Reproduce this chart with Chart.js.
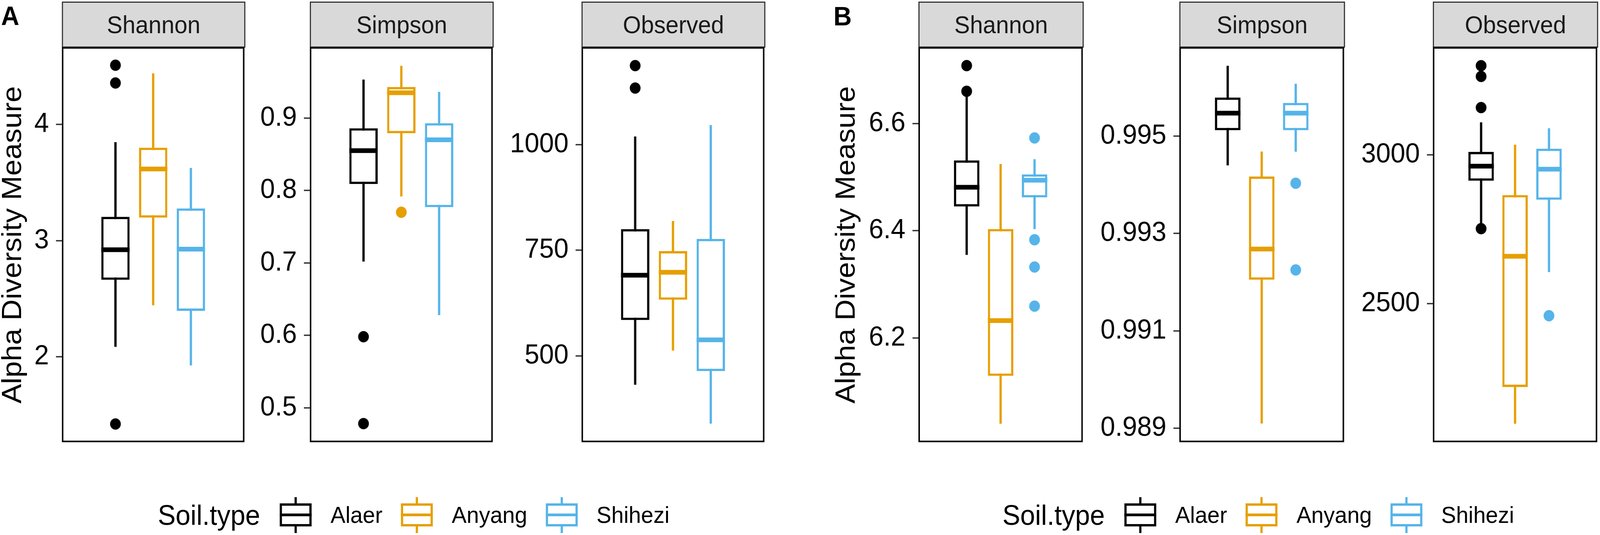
<!DOCTYPE html>
<html>
<head>
<meta charset="utf-8">
<script src="https://cdn.jsdelivr.net/npm/chart.js@4.4.1/dist/chart.umd.min.js"></script>
<style>
html,body{margin:0;padding:0;background:#fff;overflow:hidden;}
#root{width:4317px;height:1370px;position:absolute;left:0;top:0;overflow:hidden;background:#fff;transform-origin:0 0;font-family:'Liberation Sans',Arial,Helvetica,sans-serif;}
canvas{position:absolute;}
.strip{position:absolute;box-sizing:border-box;background:#D9D9D9;border:3px solid #333333;display:flex;align-items:center;justify-content:center;font-size:63px;color:#1A1A1A;line-height:1;}
.ytitle{position:absolute;font-size:75px;line-height:75px;white-space:nowrap;color:#000;transform:translate(-50%,-50%) rotate(-90deg);}
.letter{position:absolute;font-size:68px;font-weight:bold;line-height:68px;color:#000;}
.legend{position:absolute;display:flex;align-items:center;white-space:nowrap;transform:translate(-50%,-50%);}
.legend .ttl{font-size:72px;line-height:72px;margin-right:53px;color:#000;}
.legend .lab{font-size:60px;line-height:60px;margin-right:50px;color:#000;}
.legend .lab:last-child{margin-right:0;}
.glyph{position:relative;width:86px;height:92px;margin-right:51px;flex:none;}
.glyph .wh{position:absolute;left:40px;width:6px;top:0;height:92px;}
.glyph .bx{position:absolute;left:0;top:16px;width:86px;height:59px;box-sizing:border-box;border:6px solid;background:#fff;}
.glyph .md{position:absolute;left:0;width:86px;top:42px;height:7px;}
</style>
</head>
<body>
<div id="root"></div>
<script>
// ---------------- DATA ----------------
const GROUPS = ['Alaer', 'Anyang', 'Shihezi'];
const FACETS = ['Shannon', 'Simpson', 'Observed'];
const LEGEND_TITLE = 'Soil.type';
const Y_TITLE = 'Alpha Diversity Measure';

// each row: [lower whisker, Q1, median, Q3, upper whisker] for Alaer, Anyang, Shihezi
const A_SHANNON = [[2.086, 2.662, 2.921, 3.205, 3.847], [2.444, 3.198, 3.617, 3.800, 4.440], [1.926, 2.395, 2.926, 3.277, 3.625]];
const A_SHANNON_OUT = [[4.511, 4.358, 1.420], [], []];
const A_SHANNON_TICKS = ['2', '3', '4'];
const A_SHANNON_RANGE = [1.27, 4.66];

const A_SIMPSON = [[0.702, 0.809, 0.855, 0.886, 0.953], [0.792, 0.879, 0.935, 0.943, 0.972], [0.628, 0.777, 0.870, 0.893, 0.936]];
const A_SIMPSON_OUT = [[0.598, 0.478], [0.770], []];
const A_SIMPSON_TICKS = ['0.5', '0.6', '0.7', '0.8', '0.9'];
const A_SIMPSON_RANGE = [0.4534, 0.997];

const A_OBSERVED = [[432, 585, 691, 800, 1019], [513, 633, 698, 748, 819], [340, 464, 538, 777, 1046]];
const A_OBSERVED_OUT = [[1187, 1134], [], []];
const A_OBSERVED_TICKS = ['500', '750', '1000'];
const A_OBSERVED_RANGE = [297.6, 1229];

const B_SHANNON = [[6.355, 6.445, 6.481, 6.531, 6.651], [6.040, 6.129, 6.232, 6.403, 6.524], [6.403, 6.462, 6.494, 6.505, 6.533]];
const B_SHANNON_OUT = [[6.708, 6.660], [], [6.573, 6.383, 6.332, 6.259]];
const B_SHANNON_TICKS = ['6.2', '6.4', '6.6'];
const B_SHANNON_RANGE = [6.0066, 6.741];

const B_SIMPSON = [[0.99440, 0.99512, 0.99547, 0.99579, 0.99644], [0.98910, 0.99205, 0.99268, 0.99417, 0.99468], [0.99468, 0.99512, 0.99547, 0.99568, 0.99607]];
const B_SIMPSON_OUT = [[], [], [0.99403, 0.99225]];
const B_SIMPSON_TICKS = ['0.989', '0.991', '0.993', '0.995'];
const B_SIMPSON_RANGE = [0.98873, 0.99681];

const B_OBSERVED = [[2769, 2913, 2962, 3010, 3109], [2096, 2219, 2659, 2865, 3034], [2606, 2849, 2952, 3021, 3089]];
const B_OBSERVED_OUT = [[3300, 3264, 3159, 2752], [], [2459]];
const B_OBSERVED_TICKS = ['2500', '3000'];
const B_OBSERVED_RANGE = [2036, 3360];

// ---------------- STYLE / LAYOUT ----------------
const COLORS = ['#000000', '#E69F00', '#56B4E9'];
const PAGE_W = 4317, PAGE_H = 1370;
const PLOT_TOP = 121, PLOT_BOTTOM = 1132;
const PLOT_H = PLOT_BOTTOM - PLOT_TOP;
const BOX_WIDTH = 0.75;
const YW = 250, PADR = 12, PADV = 60;
const FONT = "'Liberation Sans', Arial, Helvetica, sans-serif";
const root = document.getElementById('root');

function fitRoot() {
  const sx = (window.innerWidth || PAGE_W) / PAGE_W;
  const sy = (window.innerHeight || PAGE_H) / PAGE_H;
  root.style.transform = (Math.abs(sx - 1) < 0.002 && Math.abs(sy - 1) < 0.002) ? 'none' : 'scale(' + sx + ',' + sy + ')';
}
fitRoot();

const panelBorder = {
  id: 'panelBorder',
  afterDraw(chart) {
    const {ctx, chartArea: a} = chart;
    ctx.save();
    ctx.strokeStyle = '#000';
    ctx.lineWidth = 4;
    ctx.strokeRect(a.left, a.top, a.right - a.left, a.bottom - a.top);
    ctx.restore();
  }
};

function makeFacet(left, width, name, stats, outs, ticks, range) {
  const st = document.createElement('div');
  st.className = 'strip';
  st.style.left = (left - 2) + 'px';
  st.style.top = '4px';
  st.style.width = (width + 4) + 'px';
  st.style.height = (PLOT_TOP - 4 + 1) + 'px';
  st.textContent = name;
  root.appendChild(st);

  const canvas = document.createElement('canvas');
  const cw = YW + width + PADR, ch = PLOT_H + 2 * PADV;
  canvas.width = cw; canvas.height = ch;
  canvas.style.left = (left - YW) + 'px';
  canvas.style.top = (PLOT_TOP - PADV) + 'px';
  canvas.style.width = cw + 'px';
  canvas.style.height = ch + 'px';
  root.appendChild(canvas);

  const datasets = [];
  GROUPS.forEach((g, i) => {
    const x = i + 1, s = stats[i], col = COLORS[i];
    datasets.push({
      type: 'line', label: g + ' median',
      data: [{x: x - BOX_WIDTH / 2, y: s[2]}, {x: x + BOX_WIDTH / 2, y: s[2]}],
      borderColor: col, borderWidth: 12, borderCapStyle: 'butt', pointRadius: 0, order: 0
    });
    datasets.push({
      type: 'bar', label: g,
      data: [{x: x, y: [s[1], s[3]]}],
      backgroundColor: '#ffffff', borderColor: col, borderWidth: 6, borderSkipped: false,
      grouped: false, categoryPercentage: BOX_WIDTH, barPercentage: 1, order: 1
    });
    datasets.push({
      type: 'bar', label: g + ' whiskers',
      data: [{x: x, y: [s[0], s[4]]}],
      backgroundColor: col, borderWidth: 0, grouped: false, barThickness: 5.5, order: 2
    });
    if (outs[i].length) {
      datasets.push({
        type: 'scatter', label: g + ' outliers',
        data: outs[i].map(v => ({x: x, y: v})),
        backgroundColor: col, borderWidth: 0, pointRadius: 14.5, pointHoverRadius: 14.5, order: 3
      });
    }
  });

  new Chart(canvas, {
    type: 'bar',
    data: {datasets},
    options: {
      responsive: false, animation: false, devicePixelRatio: 1,
      events: [],
      layout: {padding: {top: PADV, bottom: PADV, left: 0, right: PADR}},
      plugins: {legend: {display: false}, tooltip: {enabled: false}, title: {display: false}},
      scales: {
        x: {
          type: 'linear', min: 0.4, max: GROUPS.length + 0.6, display: false,
          afterBuildTicks: s => { s.ticks = GROUPS.map((g, i) => ({value: i + 1})); }
        },
        y: {
          type: 'linear', min: range[0], max: range[1],
          afterFit: s => { s.width = YW; },
          afterBuildTicks: s => { s.ticks = ticks.map(t => ({value: parseFloat(t)})); },
          ticks: {
            callback: (v, i) => ticks[i], autoSkip: false, padding: 19,
            color: '#000', font: {family: FONT, size: 71}
          },
          grid: {drawOnChartArea: false, drawTicks: true, tickLength: 18, tickColor: '#333333', tickWidth: 3.5},
          border: {display: false}
        }
      }
    },
    plugins: [panelBorder]
  });
}

function addText(cls, text, css) {
  const d = document.createElement('div');
  d.className = cls;
  d.textContent = text;
  Object.assign(d.style, css);
  root.appendChild(d);
  return d;
}

function makeLegend(cx) {
  const L = document.createElement('div');
  L.className = 'legend';
  L.style.left = cx + 'px';
  L.style.top = '1319px';
  const t = document.createElement('span');
  t.className = 'ttl'; t.textContent = LEGEND_TITLE;
  L.appendChild(t);
  GROUPS.forEach((g, i) => {
    const gl = document.createElement('div');
    gl.className = 'glyph';
    gl.innerHTML = '<div class="wh"></div><div class="bx"></div><div class="md"></div>';
    gl.querySelector('.wh').style.background = COLORS[i];
    gl.querySelector('.bx').style.borderColor = COLORS[i];
    gl.querySelector('.md').style.background = COLORS[i];
    L.appendChild(gl);
    const lb = document.createElement('span');
    lb.className = 'lab'; lb.textContent = g;
    L.appendChild(lb);
  });
  root.appendChild(L);
}

// Panel A
addText('letter', 'A', {left: '3px', top: '6px'});
addText('ytitle', Y_TITLE, {left: '31px', top: ((PLOT_TOP + PLOT_BOTTOM) / 2) + 'px'});
makeFacet(169, 491, FACETS[0], A_SHANNON, A_SHANNON_OUT, A_SHANNON_TICKS, A_SHANNON_RANGE);
makeFacet(838, 492, FACETS[1], A_SIMPSON, A_SIMPSON_OUT, A_SIMPSON_TICKS, A_SIMPSON_RANGE);
makeFacet(1571, 492, FACETS[2], A_OBSERVED, A_OBSERVED_OUT, A_OBSERVED_TICKS, A_OBSERVED_RANGE);
makeLegend((169 + 2063) / 2);

// Panel B
addText('letter', 'B', {left: '2249px', top: '7px'});
addText('ytitle', Y_TITLE, {left: '2281px', top: ((PLOT_TOP + PLOT_BOTTOM) / 2) + 'px'});
makeFacet(2480, 442, FACETS[0], B_SHANNON, B_SHANNON_OUT, B_SHANNON_TICKS, B_SHANNON_RANGE);
makeFacet(3184, 443, FACETS[1], B_SIMPSON, B_SIMPSON_OUT, B_SIMPSON_TICKS, B_SIMPSON_RANGE);
makeFacet(3868, 442, FACETS[2], B_OBSERVED, B_OBSERVED_OUT, B_OBSERVED_TICKS, B_OBSERVED_RANGE);
makeLegend((2480 + 4310) / 2);
</script>
</body>
</html>
